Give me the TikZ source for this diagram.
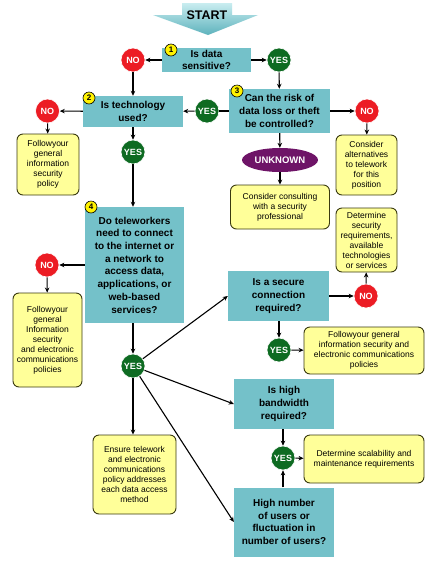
\documentclass[tikz,border=0pt]{standalone}
\usepackage{fontspec}
\setmainfont{Liberation Sans}
\usetikzlibrary{arrows.meta,shapes.geometric}
\definecolor{teal1}{HTML}{74C1C9}
\definecolor{teal2}{HTML}{5DB2BC}
\definecolor{startlight}{HTML}{C9EDF0}
\definecolor{ylw}{HTML}{FFFF99}
\definecolor{ylwborder}{HTML}{3A3A10}
\definecolor{nored}{HTML}{EC1C24}
\definecolor{yesgreen}{HTML}{0E6B22}
\definecolor{unkpurple}{HTML}{6E1467}
\tikzset{
  qbox/.style={draw=none, fill=teal1, align=center, font=\bfseries\fontsize{10}{12.7}\selectfont, inner sep=0pt, text=black},
  ybox/.style={draw=ylwborder, fill=ylw, rounded corners=6pt, line width=0.9pt, align=center, font=\fontsize{8.5}{10}\selectfont, inner sep=0pt},
  nocirc/.style={circle, fill=nored, draw=white, line width=0.6pt, minimum size=24pt, inner sep=0pt, text=white, font=\bfseries\fontsize{9}{9}\selectfont},
  yescirc/.style={circle, fill=yesgreen, draw=white, line width=0.6pt, minimum size=24pt, inner sep=0pt, text=white, font=\bfseries\fontsize{9}{9}\selectfont},
  numcirc/.style={circle, fill=yellow, draw=black, line width=0.6pt, minimum size=12pt, inner sep=0pt, font=\bfseries\fontsize{8}{8}\selectfont},
  arr/.style={-{Stealth[length=5pt,width=4.5pt]}, line width=1.1pt, black},
  ln/.style={line width=1.1pt, black}
}
\begin{document}
\begin{tikzpicture}[x=1pt,y=-1pt]
\useasboundingbox (0,0) rectangle (435,566);
\fill[white] (0,0) rectangle (435,566);
% START arrow
\shade[top color=startlight, bottom color=teal2] (182,3) -- (232,3) -- (232,15) -- (258,15) -- (208,35) -- (153,15) -- (182,15) -- cycle;
\node[font=\bfseries\fontsize{12.5}{12.5}\selectfont] (start) at (207,15) {START};
% question boxes
\node[qbox, minimum width=89pt, minimum height=24pt] (q1) at (206.5,60) {Is data\\sensitive?};
\node[qbox, minimum width=100pt, minimum height=31pt] (q2) at (133,111.5) {Is technology\\used?};
\node[qbox, minimum width=101pt, minimum height=44pt] (q3) at (279.5,111) {Can the risk of\\data loss or theft\\be controlled?};
\node[qbox, minimum width=99pt, minimum height=116pt] (q4) at (134.5,265) {Do teleworkers\\need to connect\\to the internet or\\a network to\\access data,\\applications, or\\web-based\\services?};
\node[qbox, minimum width=101pt, minimum height=50pt] (q5) at (278.5,296) {Is a secure\\connection\\required?};
\node[qbox, minimum width=100pt, minimum height=50pt] (q6) at (284,404) {Is high\\bandwidth\\required?};
\node[qbox, minimum width=100pt, minimum height=69pt] (q7) at (284,522) {High number\\of users or\\fluctuation in\\number of users?};
% number badges
\node[numcirc] (k1) at (171,50) {1};
\node[numcirc] (k2) at (89,98) {2};
\node[numcirc] (k3) at (237,91) {3};
\node[numcirc] (k4) at (91,207) {4};
% yes / no circles
\node[nocirc] (n1) at (133,60) {NO};
\node[yescirc] (y1) at (279,60) {YES};
\node[yescirc] (y3) at (207,111) {YES};
\node[nocirc] (n2) at (47.5,111) {NO};
\node[nocirc] (n3) at (367,111) {NO};
\node[yescirc] (y2) at (133,152) {YES};
\node[nocirc] (n4) at (47,265) {NO};
\node[yescirc] (y4) at (133,366) {YES};
\node[nocirc] (n5) at (366,296) {NO};
\node[yescirc] (y5) at (279,350) {YES};
\node[yescirc] (y6) at (283,458) {YES};
\node[ellipse, fill=unkpurple, minimum width=76pt, minimum height=24pt, inner sep=0pt, text=white, font=\bfseries\fontsize{9.5}{9.5}\selectfont] (unk) at (280,160) {UNKNOWN};
% yellow boxes
\node[ybox, minimum width=62pt, minimum height=61pt] (f1) at (48,164.5) {Followyour\\general\\information\\security\\policy};
\node[ybox, minimum width=99pt, minimum height=44pt] (c1) at (280,207) {Consider consulting\\with a security\\professional};
\node[ybox, minimum width=61pt, minimum height=60pt] (a1) at (366.5,165) {Consider\\alternatives\\to telework\\for this\\position};
\node[ybox, minimum width=61pt, minimum height=64pt] (d1) at (366.5,240) {Determine\\security\\requirements,\\available\\technologies\\or services};
\node[ybox, minimum width=69pt, minimum height=94pt] (f2) at (47.5,340) {Followyour\\general\\Information\\security\\and electronic\\communications\\policies};
\node[ybox, minimum width=120pt, minimum height=47pt] (f3) at (364,350.5) {Followyour general\\information security and\\electronic communications\\policies};
\node[ybox, minimum width=120pt, minimum height=48pt] (s1) at (364,459) {Determine scalability and\\maintenance requirements};
\node[ybox, minimum width=83pt, minimum height=79pt] (e1) at (134.5,474.5) {Ensure telework\\and electronic\\communications\\policy addresses\\each data access\\method};
% connectors
\draw[arr] (q1) -- (n1);
\draw[arr] (q1) -- (y1);
\draw[arr] (n1) -- (q2);
\draw[arr] (y1) -- (q3);
\draw[ln] (q3) -- (y3);
\draw[arr] (y3) -- (q2);
\draw[arr] (q2) -- (n2);
\draw[arr] (q3) -- (n3);
\draw[arr] (n2) -- (f1);
\draw[arr] (n3) -- (a1);
\draw[arr] (q2) -- (y2);
\draw[arr] (y2) -- (y2 |- q4.north);
\draw[arr] (q3) -- (unk);
\draw[arr] (unk) -- (c1);
\draw[arr] (q4) -- (n4);
\draw[arr] (n4) -- (f2);
\draw[arr] (y4 |- q4.south) -- (y4);
\draw[arr] (y4) -- (q5.west);
\draw[arr] (y4) -- (q6.west);
\draw[arr] (y4) -- (q7.west);
\draw[arr] (y4) -- (y4 |- e1.north);
\draw[arr] (q5) -- (n5);
\draw[arr] (n5) -- (d1);
\draw[arr] (y5 |- q5.south) -- (y5);
\draw[arr] (y5) -- (f3);
\draw[arr] (y6 |- q6.south) -- (y6);
\draw[arr] (y6 |- q7.north) -- (y6);
\draw[arr] (y6) -- (s1);
\end{tikzpicture}
\end{document}
